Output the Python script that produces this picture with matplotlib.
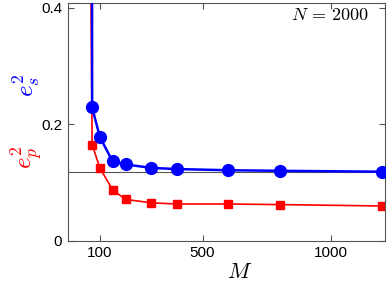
import matplotlib
matplotlib.use('Agg')
import matplotlib.pyplot as plt

M_s = [66, 70, 100, 150, 200, 300, 400, 600, 800, 1200]
e_s2 = [3.0, 0.229, 0.178, 0.136, 0.131, 0.125, 0.123, 0.121, 0.120, 0.1185]
M_p = [55, 70, 100, 150, 200, 300, 400, 600, 800, 1200]
e_p2 = [1.0, 0.165, 0.125, 0.087, 0.071, 0.065, 0.063, 0.063, 0.062, 0.0596]
ref_level = 0.1174
N = 2000

plt.rcParams['font.family'] = 'Liberation Sans'
plt.rcParams['mathtext.fontset'] = 'cm'

fig = plt.figure(figsize=(3.9, 2.82), dpi=100)
ax = fig.add_axes([0.174, 0.1465, 0.813, 0.8445])

ax.axhline(ref_level, color='#555555', lw=0.8, zorder=1)
ax.plot(M_p, e_p2, '-s', color='red', lw=1.2, ms=5.5, zorder=2)
ax.plot(M_s, e_s2, '-o', color='blue', lw=1.8, ms=8.5, zorder=3)

ax.set_xlim(-24.5, 1210)
ax.set_ylim(0, 0.409)
ax.set_xticks([100, 500, 1000])
ax.set_yticks([0, 0.2, 0.4])
ax.set_yticklabels(['0', '0.2', '0.4'])
ax.tick_params(direction='in', top=True, right=True, length=4, width=0.8,
               color='#555555', labelsize=11, pad=4)
for s in ax.spines.values():
    s.set_color('#555555')
    s.set_linewidth(0.8)

ax.text(0.95, 0.945, r'$N\,=\,%d$' % N, transform=ax.transAxes,
        ha='right', va='center', fontsize=13)
fig.text(240 / 390, 1 - 272 / 282, r'$M$', ha='center', va='center', fontsize=16)
fig.text(27 / 390, 1 - 85 / 282, r'$e_s^2$', color='blue', rotation=90,
         ha='center', va='center', fontsize=18)
fig.text(27 / 390, 1 - 157 / 282, r'$e_p^2$', color='red', rotation=90,
         ha='center', va='center', fontsize=18)

fig.savefig('out.png', dpi=100)
